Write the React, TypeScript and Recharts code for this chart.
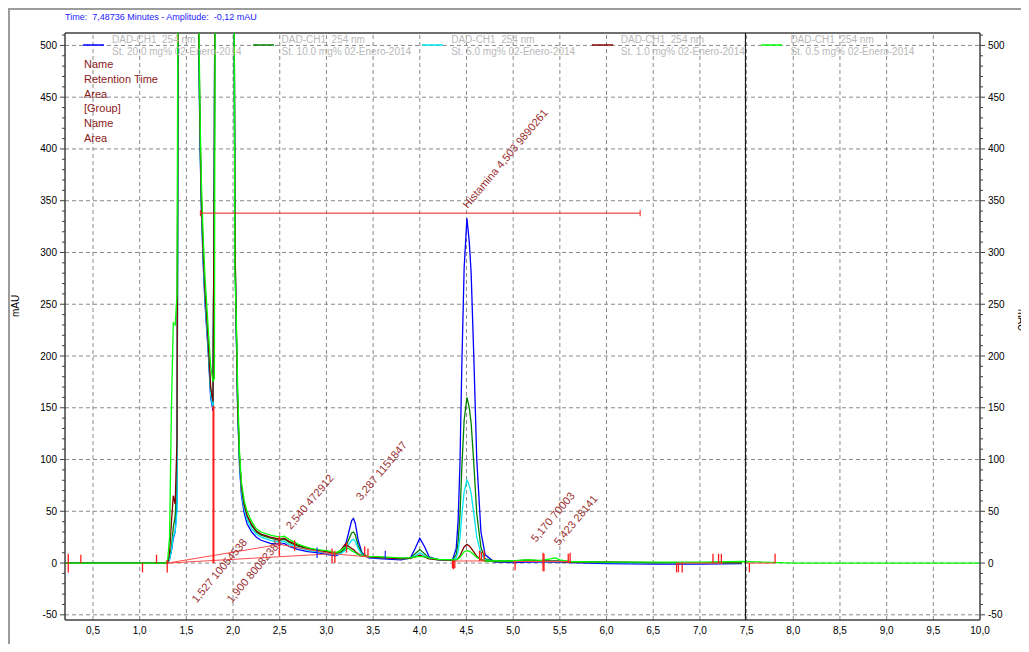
import React from 'react'
import { LineChart, Line, XAxis, YAxis, ReferenceLine, ReferenceDot, Legend } from 'recharts'

const FONT = "'Liberation Sans', Arial, sans-serif"

// retention time (minutes) shared by the five traces
const times = [
  0.2, 1.0, 1.28, 1.3, 1.32, 1.34, 1.36, 1.38, 1.4, 1.42,
  1.44, 1.6, 1.62, 1.645, 1.66, 1.68, 1.7, 1.735, 1.76, 1.785,
  1.8, 1.815, 1.9, 2.0, 2.02, 2.035, 2.05, 2.07, 2.09, 2.12,
  2.15, 2.2, 2.25, 2.3, 2.4, 2.5, 2.55, 2.6, 2.7, 2.8,
  2.9, 3.0, 3.1, 3.15, 3.2, 3.24, 3.27, 3.29, 3.31, 3.34,
  3.38, 3.45, 3.6, 3.8, 3.9, 3.95, 4.0, 4.05, 4.1, 4.2,
  4.35, 4.39, 4.41, 4.43, 4.45, 4.475, 4.505, 4.53, 4.55, 4.58,
  4.61, 4.655, 4.7, 4.8, 5.0, 5.15, 5.3, 5.4, 5.45, 5.5,
  5.6, 6.0, 6.5, 7.0, 7.45, 8.0, 10.0,
]

// mAU, 900 = off scale (clipped)
const std20 = [
  0, 0, 0, 0, 4, 12, 24, 30, 60, 900,
  900, 900, 600, 408, 343, 289, 250, 202, 160, 147,
  400, 900, 900, 900, 300, 220, 145, 92, 65, 48,
  38, 30, 25, 22, 19, 18, 19, 16, 13, 11,
  10, 8.5, 7, 9, 16, 30, 41, 43, 38, 22,
  10, 5, 4, 3, 5, 14, 24, 16, 6, 3,
  3, 14, 40, 95, 190, 285, 333, 310, 280, 195,
  100, 30, 8, 1, 0.5, 1, 1, 1, 1, 1,
  0.5, -0.5, -1, -1, -0.5, null, null,
]
const std10 = [
  0, 0, 0, 0, 5, 15, 35, 45, 80, 900,
  900, 900, 620, 420, 352, 298, 258, 208, 166, 152,
  400, 900, 900, 900, 310, 225, 152, 100, 72, 55,
  45, 36, 30, 27, 24, 22, 23, 20, 16, 14,
  12, 11, 9, 10, 14, 23, 29, 30, 27, 17,
  9, 6, 5.5, 4.5, 5, 9, 13, 9, 5, 3.5,
  3, 8, 20, 46, 92, 138, 160, 150, 135, 94,
  48, 15, 4, 2, 2, 3, 2, 2, 2, 2,
  1.5, 1, 0.5, 0.5, 0.5, null, null,
]
const std5 = [
  0, 0, 0, 0, 4, 12, 26, 30, 50, 900,
  900, 900, 610, 415, 348, 294, 254, 205, 163, 150,
  400, 900, 900, 900, 305, 222, 148, 95, 68, 52,
  42, 33, 28, 25, 22, 20, 21, 18, 15, 12.5,
  11, 9.5, 8, 9, 12, 18, 22, 23, 21, 14,
  8, 5.5, 5, 4, 4.5, 7, 10, 7, 4.5, 3,
  2.5, 5, 11, 24, 46, 69, 80, 75, 67, 47,
  25, 9, 3, 1.5, 1.5, 2, 1.5, 1.5, 1.5, 1.5,
  1, 0.5, 0.3, 0.3, 0.3, null, null,
]
const std1 = [
  0, 0, 0, 0, 10, 40, 65, 57, 120, 900,
  900, 900, 615, 425, 355, 300, 262, 212, 170, 156,
  400, 900, 900, 900, 315, 228, 150, 100, 73, 56,
  46, 37, 31, 28, 25, 23, 24, 21, 17, 14.5,
  12.5, 11, 9.5, 12, 18, 16, 14, 13, 11, 9,
  7, 6, 5, 4, 4.5, 6, 7.5, 6, 4, 3,
  2.5, 3, 4.5, 7, 11, 15.5, 18, 16.5, 14.5, 10.5,
  6.5, 3.5, 2, 1.5, 1.5, 2, 2, 1.5, 1.5, 1.5,
  1, 1, 0.5, 0.5, 0.3, null, null,
]
const std05 = [
  0, 0, 0, 3, 25, 150, 232, 230, 260, 900,
  900, 900, 640, 440, 370, 315, 275, 225, 190, 176,
  178, 900, 900, 900, 280, 235, 165, 105, 78, 60,
  50, 40, 33, 30, 27, 25, 26, 23, 18, 15,
  13, 12, 10, 12, 15, 14, 12, 11, 10, 8,
  7, 6.5, 6, 5, 5, 6, 6.5, 6, 5, 3.5,
  3, 3, 4, 5.5, 8, 11, 12, 11.5, 10.5, 8,
  5.5, 3.5, 2, 2, 2, 3, 2.5, 4, 5, 3,
  1.5, 1, 1, 0.8, 1.5, 0, 0,
]

const seriesKeys = ['std20', 'std10', 'std5', 'std1', 'std05']
const seriesNames = [
  'St. 20.0 mg% 02-Enero-2014',
  'St. 10.0 mg% 02-Enero-2014',
  'St. 5.0 mg% 02-Enero-2014',
  'St. 1.0 mg% 02-Enero-2014',
  'St. 0.5 mg% 02-Enero-2014',
]
const seriesColors = ['#0000ff', '#008000', '#00e5ee', '#800000', '#00ff00']

const xTicks = [0.5, 1.0, 1.5, 2.0, 2.5, 3.0, 3.5, 4.0, 4.5, 5.0, 5.5, 6.0, 6.5, 7.0, 7.5, 8.0, 8.5, 9.0, 9.5, 10.0]
const xGrid = [0.5, 1.0, 1.5, 2.0, 2.5, 3.0, 3.5, 4.0, 4.5, 5.0, 5.5, 6.0, 6.5, 7.0, 7.5, 8.0, 8.5, 9.0, 9.5]
const yGrid = [-50, 0, 50, 100, 150, 200, 250, 300, 350, 400, 450, 500]
const yTicks = [
  -50, -40, -30, -20, -10, 0, 10, 20, 30, 40, 50, 60, 70, 80, 90, 100,
  110, 120, 130, 140, 150, 160, 170, 180, 190, 200, 210, 220, 230, 240, 250,
  260, 270, 280, 290, 300, 310, 320, 330, 340, 350, 360, 370, 380, 390, 400,
  410, 420, 430, 440, 450, 460, 470, 480, 490, 500, 510,
]
const yMin = -55
const yMax = 512

// peak annotations
const peakTexts = ['1,527 10054538', '1,900 80082389', '2,540 472912', '3,287 1151847', 'Histamina 4,503 9890261', '5,170 70003', '5,423 28141']
const peakTextT = [1.61, 1.985, 2.62, 3.37, 4.515, 5.245, 5.49]
const peakTextV = [-39, -39, 32, 60, 342, 19.5, 16.5]

// integration events (red ticks)
const eventT = [0.235, 0.37, 1.03, 1.18, 1.295, 2.495, 2.66, 3.06, 3.09, 3.215, 3.41, 3.445, 4.35, 4.36, 4.375, 4.64, 4.66, 4.69, 5.02, 5.32, 5.33, 5.59, 5.61, 6.75, 6.77, 6.81, 7.14, 7.2, 7.23, 7.53, 7.805]
const eventTop = [9, 8, 0, 8, 3, 26, 22, 14, 12, 20, 16, 14, 2, 2, 2, 12, 11, 12, 1, 10, 9, 9, 10, 0, 0, 0, 9, 9, 9, 0, 9]
const eventBottom = [-9, 0, -9, 0, -9, 7, 12, 0, 0, 10, 6, 6, -5, -6, -5, 2, 2, 2, -7, -8, -8, 0, 0, -9, -9, -9, 0, 0, 0, -9, 0]
const blueEventT = [2.9, 3.63]
const blueEventTop = [15, 12]
const blueEventBottom = [5, 4]

// baselines drawn under the peaks
const baseStartT = [1.3, 1.3, 2.5, 3.06, 4.36, 5.0, 6.75, 7.5]
const baseStartV = [0, 0, 18, 9, 2, 1.5, 0, 0]
const baseEndT = [2.5, 3.06, 3.06, 3.45, 4.7, 5.6, 7.25, 7.8]
const baseEndV = [18, 9, 9, 6, 2, 1.5, 0, 0]

const dropT = 1.79
const dropTop = 152
const widthBarStart = 1.65
const widthBarEnd = 6.36
const widthBarLevel = 338
const cursorT = 7.48736

const tableLabels = ['Name', 'Retention Time', 'Area', '[Group]', 'Name', 'Area']

const chartData = times.map((t, i) => ({
  t,
  std20: std20[i],
  std10: std10[i],
  std5: std5[i],
  std1: std1[i],
  std05: std05[i],
}))

const fmtMinutes = (v: number) => v.toFixed(1).replace('.', ',')

function AxisTick(props: any) {
  const { x, y, payload, side } = props
  const v = payload.value
  const major = v % 50 === 0
  const left = side === 'left'
  const edge = left ? x + 8 : x - 8
  const len = major ? 5 : 3
  return (
    <g>
      <line x1={edge} y1={y} x2={left ? edge - len : edge + len} y2={y} stroke="#404040" />
      {major && (
        <text x={x} y={y} dy={3.5} textAnchor={left ? 'end' : 'start'} fontSize={10} fill="#000" fontFamily={FONT}>
          {v}
        </text>
      )}
    </g>
  )
}

function LegendBox() {
  return (
    <div style={{ position: 'relative', width: 900, height: 26 }}>
      {seriesNames.map((name, i) => (
        <div key={name} style={{ position: 'absolute', left: i * 169.6, top: 0 }}>
          <svg width={22} height={4} style={{ position: 'absolute', left: 0, top: 9 }}>
            <line x1={0} y1={2} x2={21} y2={2} stroke={seriesColors[i]} strokeWidth={1.5} />
          </svg>
          <div
            style={{
              position: 'absolute', left: 29, top: 0, whiteSpace: 'pre', color: '#b9b9b9',
              fontSize: 10, lineHeight: '11.7px', fontFamily: FONT,
            }}
          >
            {'DAD-CH1  254 nm\n' + name}
          </div>
        </div>
      ))}
    </div>
  )
}

export default function App() {
  return (
    <div style={{ position: 'relative', width: 1021, height: 644, marginBottom: -8, overflow: 'hidden', fontFamily: FONT }}>
      <div style={{ position: 'absolute', left: 0, top: 0, width: 1040, height: 700, borderLeft: '2px solid #9c9c9c', borderTop: '2px solid #9c9c9c' }} />

      <LineChart
        width={1021}
        height={644}
        data={chartData}
        margin={{ top: 25, right: 4, bottom: 0, left: 12 }}
        style={{ position: 'absolute', left: 0, top: 0 }}
      >
        <XAxis
          type="number"
          dataKey="t"
          domain={[0.2, 10]}
          allowDataOverflow
          ticks={xTicks}
          interval={0}
          height={32}
          tickSize={5}
          tickMargin={2}
          tickLine={false}
          axisLine={{ stroke: '#404040', strokeWidth: 1.5 }}
          tickFormatter={fmtMinutes}
          tick={{ fontSize: 10, fill: '#000', fontFamily: FONT }}
        />
        <YAxis
          domain={[yMin, yMax]}
          allowDataOverflow
          ticks={yTicks}
          interval={0}
          width={45}
          tickSize={5}
          tickMargin={3}
          tickLine={false}
          axisLine={{ stroke: '#404040', strokeWidth: 1.5 }}
          tick={(p: any) => <AxisTick {...p} side="left" />}
        />
        <YAxis
          yAxisId="r"
          orientation="right"
          domain={[yMin, yMax]}
          allowDataOverflow
          ticks={yTicks}
          interval={0}
          width={45}
          tickSize={5}
          tickMargin={3}
          tickLine={false}
          axisLine={{ stroke: '#404040', strokeWidth: 1.5 }}
          tick={(p: any) => <AxisTick {...p} side="right" />}
        />

        {yGrid.map((v) => (
          <ReferenceLine key={'gy' + v} y={v} stroke="#8a8a8a" strokeDasharray="4 3" />
        ))}
        {xGrid.map((t) => (
          <ReferenceLine key={'gx' + t} x={t} stroke="#8a8a8a" strokeDasharray="4 3" />
        ))}
        <ReferenceLine y={yMax} stroke="#404040" strokeWidth={1.5} />

        <Legend
          layout="horizontal"
          verticalAlign="middle"
          align="center"
          wrapperStyle={{ top: 26, left: 75, width: 900 }}
          content={() => <LegendBox />}
        />

        {seriesKeys.map((k, i) => (
          <Line
            key={k}
            dataKey={k}
            name={seriesNames[i]}
            stroke={seriesColors[i]}
            strokeWidth={1.3}
            dot={false}
            activeDot={false}
            type="linear"
            isAnimationActive={false}
          />
        ))}

        {baseStartT.map((t, i) => (
          <ReferenceLine
            key={'b' + i}
            segment={[{ x: t, y: baseStartV[i] }, { x: baseEndT[i], y: baseEndV[i] }]}
            stroke="#ff4a4a"
            strokeWidth={1}
          />
        ))}
        {eventT.map((t, i) => (
          <ReferenceLine
            key={'e' + i}
            segment={[{ x: t, y: eventBottom[i] }, { x: t, y: eventTop[i] }]}
            stroke="#ff1a1a"
            strokeWidth={1.3}
          />
        ))}
        {blueEventT.map((t, i) => (
          <ReferenceLine
            key={'be' + i}
            segment={[{ x: t, y: blueEventBottom[i] }, { x: t, y: blueEventTop[i] }]}
            stroke="#2020ff"
            strokeWidth={1.2}
          />
        ))}
        <ReferenceLine segment={[{ x: dropT, y: 0 }, { x: dropT, y: dropTop }]} stroke="#ff1a1a" strokeWidth={2} />
        <ReferenceLine
          segment={[{ x: widthBarStart, y: widthBarLevel }, { x: widthBarEnd, y: widthBarLevel }]}
          stroke="#e82020"
          strokeWidth={1}
        />
        <ReferenceLine
          segment={[{ x: widthBarStart, y: widthBarLevel - 3 }, { x: widthBarStart, y: widthBarLevel + 3 }]}
          stroke="#e82020"
        />
        <ReferenceLine
          segment={[{ x: widthBarEnd, y: widthBarLevel - 3 }, { x: widthBarEnd, y: widthBarLevel + 3 }]}
          stroke="#e82020"
        />
        <ReferenceLine x={cursorT} stroke="#000" strokeWidth={1} />

        {peakTexts.map((txt, i) => (
          <ReferenceDot
            key={'p' + i}
            x={peakTextT[i]}
            y={peakTextV[i]}
            r={0}
            shape={(p: any) => (
              <text
                x={p.cx}
                y={p.cy}
                transform={`rotate(-50 ${p.cx} ${p.cy})`}
                fontSize={11}
                fill="#9a3030"
                fontFamily={FONT}
              >
                {txt}
              </text>
            )}
          />
        ))}
      </LineChart>

      <div style={{ position: 'absolute', left: 57, top: 4, fontSize: 9, color: '#1a1aff', whiteSpace: 'pre' }}>
        {'Time:  7,48736 Minutes - Amplitude:  -0,12 mAU'}
      </div>

      <div style={{ position: 'absolute', left: 76, top: 49, fontSize: 11, lineHeight: '14.8px', color: '#8b1a1a' }}>
        {tableLabels.map((s, i) => (
          <div key={i}>{s}</div>
        ))}
      </div>

      <div style={{ position: 'absolute', left: 7, top: 298, fontSize: 10, transform: 'translate(-50%, -50%) rotate(-90deg)' }}>mAU</div>
      <div style={{ position: 'absolute', left: 1013, top: 312, fontSize: 10, transform: 'translate(-50%, -50%) rotate(90deg)' }}>mAU</div>
      <div style={{ position: 'absolute', left: 514, top: 640, fontSize: 10, transform: 'translate(-50%, -50%)' }}>Minutes</div>
    </div>
  )
}
